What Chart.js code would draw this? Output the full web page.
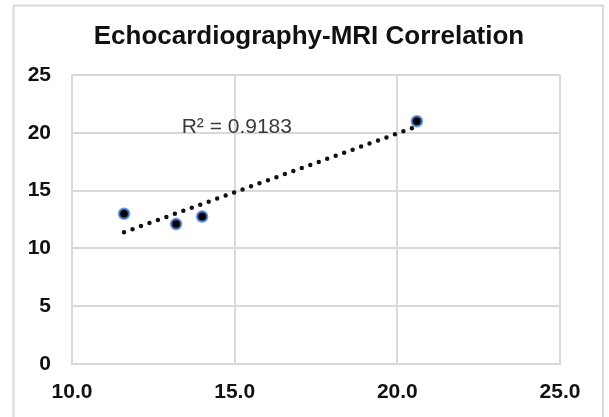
<!DOCTYPE html>
<html>
<head>
<meta charset="utf-8">
<script src="https://cdn.jsdelivr.net/npm/chart.js@4/dist/chart.umd.min.js"></script>
<style>
  html, body { margin: 0; padding: 0; background: #fff; }
  #wrap { width: 609px; height: 417px; position: relative; }
</style>
</head>
<body>
<div id="wrap"><canvas id="corrchart"></canvas></div>
<script>
// values
const echoValues = [11.6, 13.2, 14.0, 20.6];
const mriValues = [13.0, 12.1, 12.75, 21.0];
const trendX = [11.6, 20.6];
const trendY = [11.4, 20.55];
const xTicks = [10, 15, 20, 25];
const yTicks = [0, 5, 10, 15, 20, 25];
const titleText = 'Echocardiography-MRI Correlation';
const rSquaredText = 'R\u00B2 = 0.9183';

const gridGray = '#d9d9d9';
const font = 'Liberation Sans, Arial, sans-serif';

// outer frame, title and the R² label
const decorPlugin = {
    id: 'decor',
    beforeDraw(chart) {
        const ctx = chart.ctx;
        ctx.save();
        ctx.fillStyle = '#fff';
        ctx.fillRect(0, 0, chart.width, chart.height);
        ctx.strokeStyle = gridGray;
        ctx.lineWidth = 2;
        ctx.strokeRect(13.5, 5.5, 589.5, 420);
        ctx.restore();
    },
    afterDraw(chart) {
        const ctx = chart.ctx;
        ctx.save();
        ctx.fillStyle = '#111';
        ctx.font = 'bold 26px ' + font;
        ctx.textAlign = 'center';
        ctx.textBaseline = 'alphabetic';
        ctx.fillText(titleText, 309, 44);

        const xs = chart.scales.x, ys = chart.scales.y;
        ctx.fillStyle = '#3a3a3a';
        ctx.font = '21px ' + font;
        ctx.textAlign = 'left';
        ctx.fillText(rSquaredText, xs.getPixelForValue(13.37), ys.getPixelForValue(20.0));
        ctx.restore();
    }
};

const corrdata = {
    datasets: [{
        label: 'Echo vs MRI',
        data: echoValues.map((x, i) => ({ x: x, y: mriValues[i] })),
        pointRadius: 5,
        pointHoverRadius: 5,
        backgroundColor: '#000',
        borderColor: 'rgba(70, 125, 215, 0.8)',
        borderWidth: 2.5
    }, {
        label: 'Linear trend',
        type: 'line',
        data: trendX.map((x, i) => ({ x: x, y: trendY[i] })),
        showLine: true,
        pointRadius: 0,
        borderColor: '#111',
        borderWidth: 4.5,
        borderDash: [0, 9],
        borderCapStyle: 'round',
        fill: false
    }]
};

const corrconfig = {
    type: 'scatter',
    data: corrdata,
    plugins: [decorPlugin],
    options: {
        responsive: true,
        maintainAspectRatio: false,
        animation: false,
        layout: {
            padding: { top: 75, right: 49, bottom: 0, left: 0 }
        },
        scales: {
            x: {
                type: 'linear',
                min: xTicks[0],
                max: xTicks[xTicks.length - 1],
                afterBuildTicks: s => { s.ticks = xTicks.map(v => ({ value: v })); },
                afterFit: s => { s.height = 53; },
                grid: { color: gridGray, lineWidth: 2, drawTicks: false },
                border: { display: true, color: gridGray, width: 2 },
                ticks: {
                    color: '#111',
                    padding: 16,
                    maxRotation: 0,
                    font: { family: font, size: 21, weight: 'bold' },
                    callback: v => v.toFixed(1)
                }
            },
            y: {
                type: 'linear',
                min: yTicks[0],
                max: yTicks[yTicks.length - 1],
                afterBuildTicks: s => { s.ticks = yTicks.map(v => ({ value: v })); },
                afterFit: s => { s.width = 72; },
                grid: { color: gridGray, lineWidth: 2, drawTicks: false },
                border: { display: true, color: gridGray, width: 2 },
                ticks: {
                    color: '#111',
                    padding: 21,
                    font: { family: font, size: 21, weight: 'bold' }
                }
            }
        },
        plugins: {
            legend: { display: false },
            tooltip: { enabled: false },
            title: { display: false }
        }
    }
};

const corrchart = new Chart(
    document.getElementById('corrchart'),
    corrconfig
);
</script>
</body>
</html>
